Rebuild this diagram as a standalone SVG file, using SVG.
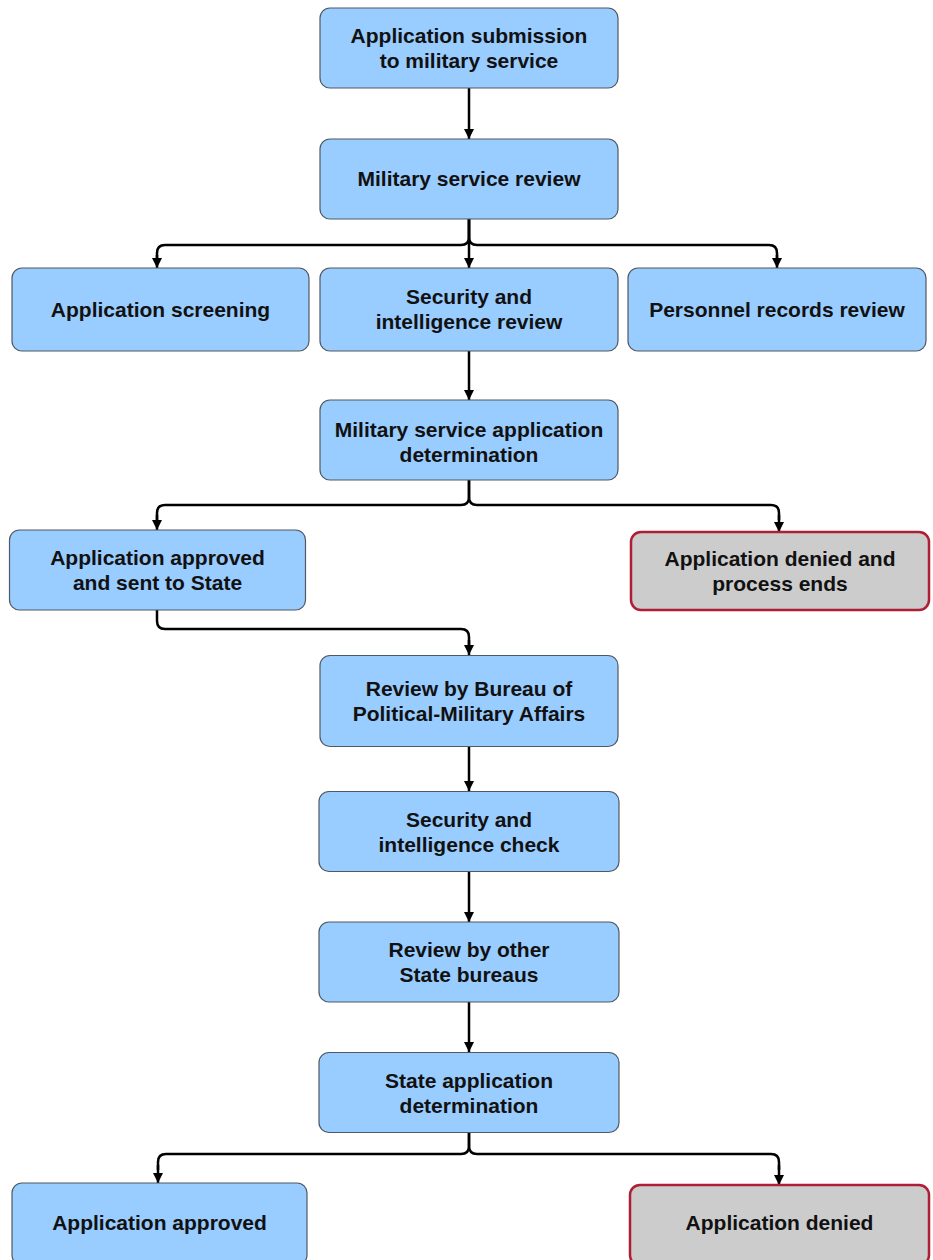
<svg xmlns="http://www.w3.org/2000/svg" width="933" height="1260" viewBox="0 0 933 1260">
<style>
.box{fill:#99ccff;stroke:#4f5963;stroke-width:1.2}
.deny{fill:#cccccc;stroke:#ae1e35;stroke-width:2.5}
text{font-family:"Liberation Sans",Arial,sans-serif;font-weight:bold;font-size:21px;fill:#111;text-anchor:middle}
.c{fill:none;stroke:#000;stroke-width:2.5;marker-end:url(#ah)}
.cn{fill:none;stroke:#000;stroke-width:2.5}
</style>
<defs>
<marker id="ah" markerUnits="userSpaceOnUse" markerWidth="11" markerHeight="11" refX="10" refY="5.5" orient="auto">
<path d="M0,0.5 L10,5.5 L0,10.5 z" fill="#000"/>
</marker>
</defs>
<rect width="933" height="1260" fill="#fff"/>
<g id="connectors">
<path class="c" d="M469,88 V139"/>
<path class="cn" d="M469,219 V237 Q469,245 461,245 H165 Q157,245 157,253 V259"/>
<path class="c" d="M157,255 V268"/>
<path class="cn" d="M469,219 V237 Q469,245 477,245 H769 Q777,245 777,253 V259"/>
<path class="c" d="M777,255 V268"/>
<path class="c" d="M469,219 V268"/>
<path class="c" d="M469,351 V400"/>
<path class="cn" d="M469,480 V497 Q469,505 461,505 H165 Q157,505 157,513 V520"/>
<path class="c" d="M157,515 V530"/>
<path class="cn" d="M469,480 V497 Q469,505 477,505 H771 Q779,505 779,513 V520"/>
<path class="c" d="M779,515 V532"/>
<path class="cn" d="M157,610 V621 Q157,629 165,629 H461 Q469,629 469,637 V645"/>
<path class="c" d="M469,640 V655"/>
<path class="c" d="M469,747 V791"/>
<path class="c" d="M469,872 V922"/>
<path class="c" d="M469,1002 V1052"/>
<path class="cn" d="M469,1133 V1146 Q469,1154 461,1154 H166 Q158,1154 158,1162 V1170"/>
<path class="c" d="M158,1165 V1183"/>
<path class="cn" d="M469,1133 V1146 Q469,1154 477,1154 H771 Q779,1154 779,1162 V1170"/>
<path class="c" d="M779,1165 V1185"/>
</g>
<g id="n1"><rect class="box" x="320" y="8" width="298" height="80" rx="10"/><text x="469" y="43">Application submission</text><text x="469" y="68">to military service</text></g>
<g id="n2"><rect class="box" x="320" y="139" width="298" height="80" rx="10"/><text x="469" y="186">Military service review</text></g>
<g id="n3a"><rect class="box" x="12" y="268" width="297" height="83" rx="10"/><text x="160.5" y="317">Application screening</text></g>
<g id="n3b"><rect class="box" x="320" y="268" width="298" height="83" rx="10"/><text x="469" y="304">Security and</text><text x="469" y="329">intelligence review</text></g>
<g id="n3c"><rect class="box" x="628" y="268" width="298" height="83" rx="10"/><text x="777" y="317">Personnel records review</text></g>
<g id="n4"><rect class="box" x="320" y="400" width="298" height="80" rx="10"/><text x="469" y="437">Military service application</text><text x="469" y="462">determination</text></g>
<g id="n5a"><rect class="box" x="9.5" y="530" width="296" height="80" rx="10"/><text x="157.5" y="565">Application approved</text><text x="157.5" y="590">and sent to State</text></g>
<g id="n5b"><rect class="deny" x="631" y="532" width="298" height="78" rx="10"/><text x="780" y="566">Application denied and</text><text x="780" y="591">process ends</text></g>
<g id="n6"><rect class="box" x="320" y="655.5" width="298" height="91" rx="10"/><text x="469" y="696">Review by Bureau of</text><text x="469" y="721">Political-Military Affairs</text></g>
<g id="n7"><rect class="box" x="319" y="791.5" width="300" height="80" rx="10"/><text x="469" y="827">Security and</text><text x="469" y="852">intelligence check</text></g>
<g id="n8"><rect class="box" x="319" y="922" width="300" height="80" rx="10"/><text x="469" y="957">Review by other</text><text x="469" y="982">State bureaus</text></g>
<g id="n9"><rect class="box" x="319" y="1052.5" width="300" height="80" rx="10"/><text x="469" y="1088">State application</text><text x="469" y="1113">determination</text></g>
<g id="n10a"><rect class="box" x="12" y="1183" width="295" height="82" rx="10"/><text x="159.5" y="1230">Application approved</text></g>
<g id="n10b"><rect class="deny" x="630" y="1185" width="299" height="80" rx="10"/><text x="779.5" y="1230">Application denied</text></g>
</svg>
